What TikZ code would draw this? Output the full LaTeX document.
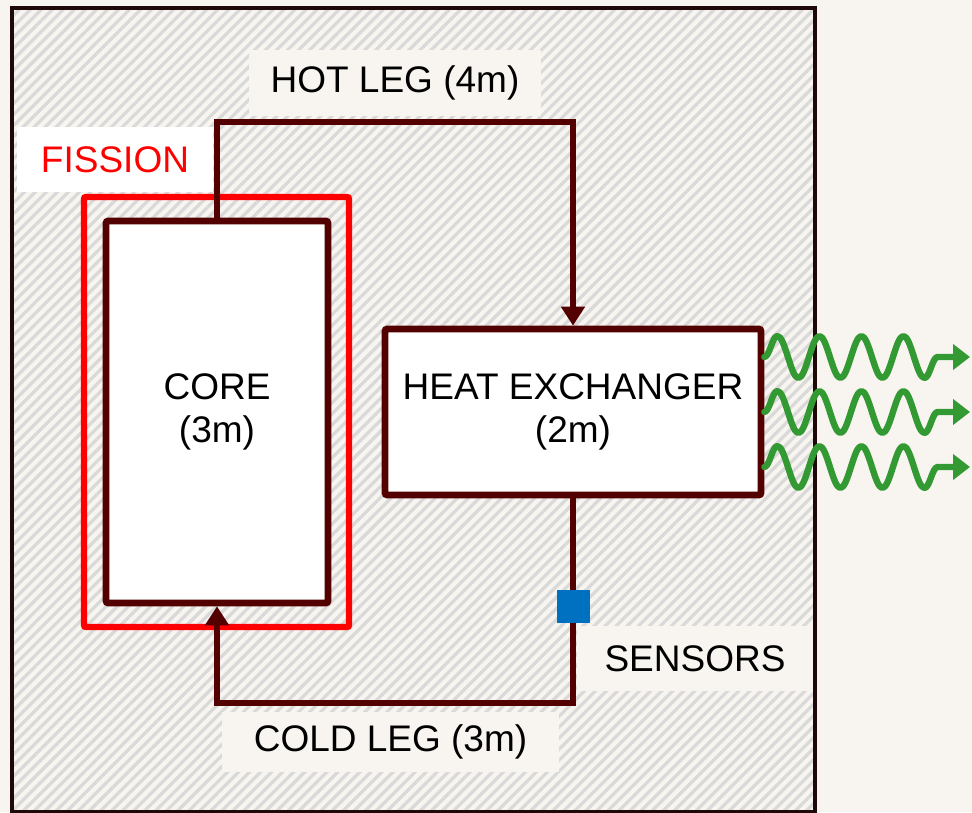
\documentclass[tikz,border=0pt]{standalone}
\usepackage{fontspec}
\setmainfont{Liberation Sans}
\usetikzlibrary{arrows.meta,patterns.meta,decorations.pathmorphing}

\definecolor{pagecream}{HTML}{F8F5F0}
\definecolor{pipemaroon}{HTML}{520000}
\definecolor{hatchgray}{HTML}{D9D9D9}
\definecolor{wallink}{HTML}{1E0808}
\definecolor{sensorblue}{HTML}{0070C0}
\definecolor{heatgreen}{HTML}{339933}

\begin{document}
\begin{tikzpicture}[x=0.5pt, y=-0.5pt,
                    every node/.style={font=\fontsize{18.5}{21.5}\selectfont, align=center},
                    wall/.style={draw=wallink, line width=2pt, pattern={Lines[angle=45, distance=3.9pt, line width=1.6pt]}, pattern color=hatchgray},
                    unit/.style={rectangle, draw=pipemaroon, line width=3.3pt, fill=white, rounded corners=1pt},
                    zone/.style={rectangle, draw=red, line width=3.2pt, rounded corners=1pt},
                    tag/.style={fill=pagecream, inner sep=0pt},
                    leg/.style={draw=pipemaroon, line width=3.4pt, -{Triangle[length=9.5pt, width=11.5pt]}},
                    heatwave/.style={draw=heatgreen, line width=3.2pt, line cap=round, line join=round, decorate, decoration={snake, segment length=21pt, amplitude=10.5pt, post length=16pt}, -{Triangle[length=8.5pt, width=12.5pt]}}
                   ]
    \fill[pagecream] (0,0) rectangle (972,812);
    \useasboundingbox (0,0) rectangle (972,812);

    \node[wall, minimum width=401.5pt, minimum height=402pt, inner sep=0pt] (plant) at (413.5,410) {};
    \node[zone, minimum width=132.5pt, minimum height=215pt] (fission) at (216.5,412) {};
    \node[fill=white, minimum width=98pt, minimum height=32.5pt, inner sep=0pt, text=red] (fissiontag) at (115,159.5) {FISSION};

    \node[unit, minimum width=111pt, minimum height=191pt] (core) at (217,412) {CORE\\(3m)};
    \node[unit, minimum width=188pt, minimum height=83pt] (hx) at (573,412) {HEAT EXCHANGER\\(2m)};

    % primary loop
    \coordinate (hotbend) at (395,122);
    \coordinate (coldbend) at (390,703);
    \draw[leg] (core.north) |- (hotbend) -| (hx.north);
    \draw[leg] (hx.south) |- (coldbend) -| (core.south);
    \node[fill=sensorblue, minimum size=16.5pt, inner sep=0pt] (sensor) at (573,606) {};

    \node[tag, minimum width=146pt, minimum height=33pt] (hotlabel) at (395,83) {HOT LEG (4m)};
    \node[tag, minimum width=168.5pt, minimum height=30pt] (coldlabel) at (390.5,742) {COLD LEG (3m)};
    \node[tag, minimum width=118pt, minimum height=32.5pt] (sensorlabel) at (695,658.5) {SENSORS};

    % heat out
    \coordinate (heat1) at (970,357);
    \coordinate (heat2) at (970,412);
    \coordinate (heat3) at (970,467);
    \draw[heatwave] ([yshift=27.5pt]hx.east) -- (heat1);
    \draw[heatwave] (hx.east) -- (heat2);
    \draw[heatwave] ([yshift=-27.5pt]hx.east) -- (heat3);
\end{tikzpicture}
\end{document}
